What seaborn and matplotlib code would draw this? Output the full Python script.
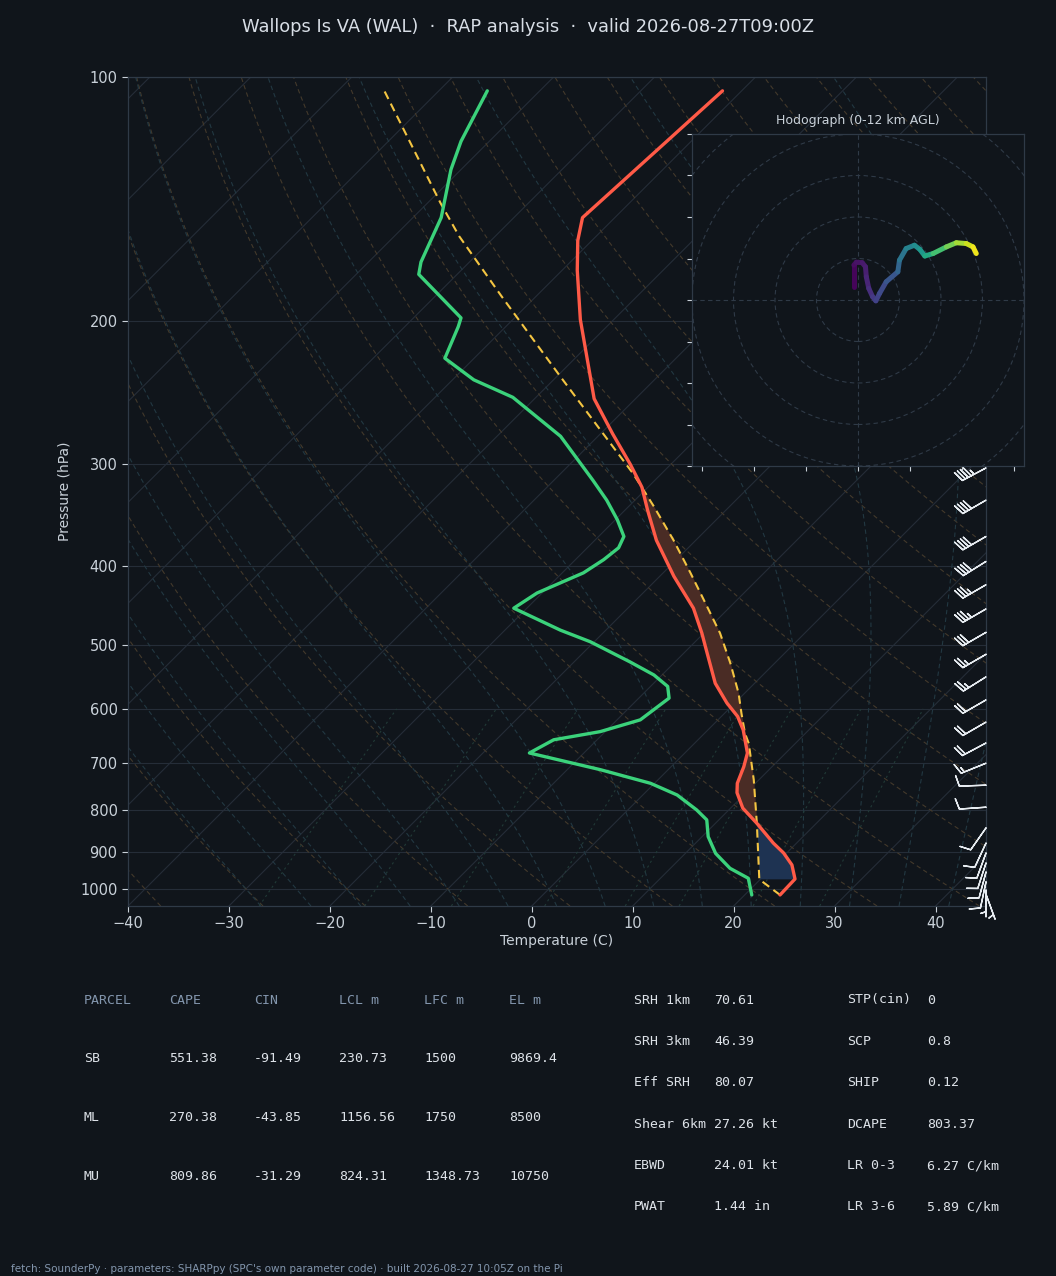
import numpy as np
import pandas as pd
import matplotlib
matplotlib.use("Agg")
import matplotlib.pyplot as plt
import matplotlib.transforms as mtransforms
from matplotlib.collections import LineCollection
from matplotlib.patches import Circle
from matplotlib.ticker import NullLocator, FixedLocator, FixedFormatter
import seaborn as sns

# ── Sounding values ───────────────────────────────────────────────────────────
temp_p = [1017, 972, 934, 903, 878, 830, 795, 761, 741, 707, 680, 637, 613, 590,
          558, 503, 484, 451, 412, 372, 342, 320, 300, 275, 249, 236, 199, 173,
          159, 149, 104]
temp_t = [23.5, 23.4, 21.7, 19.7, 17.7, 14.1, 11.2, 9.1, 8.2, 7.2, 6.2, 3.5, 1.6,
          -0.8, -3.9, -8.5, -10.2, -13.5, -18.6, -23.9, -27.7, -30.6, -34.0,
          -38.8, -44.1, -46.3, -53.3, -58.5, -61.4, -63.2, -61.9]

dwpt_p = [1017, 970, 943, 904, 862, 822, 799, 766, 741, 713, 680, 655, 640, 619,
          582, 563, 545, 525, 496, 480, 451, 432, 408, 393, 380, 368, 351, 332,
          314, 277, 248, 236, 222, 203, 198, 175, 169, 149, 130, 120, 104]
dwpt_t = [20.7, 18.7, 15.9, 13.0, 10.6, 8.8, 6.8, 3.4, -0.4, -6.7, -15.4, -14.3,
          -10.5, -7.7, -7.0, -8.3, -10.8, -14.5, -20.4, -24.5, -31.3, -30.5, -27.9,
          -27.2, -26.9, -27.5, -29.8, -32.8, -36.1, -43.7, -52.3, -57.9, -62.9,
          -64.7, -65.3, -73.8, -74.8, -77.2, -81.0, -82.8, -85.2]

parcel_p = [1017, 973, 830, 734, 662, 643, 608, 574, 527, 484, 449, 408, 372, 338,
            308, 272, 234, 186, 157, 143, 104]
parcel_t = [23.5, 19.9, 14.1, 9.5, 5.4, 4.0, 1.7, -0.6, -4.4, -8.4, -12.3, -17.3,
            -22.2, -27.5, -32.8, -40.4, -49.6, -63.5, -73.6, -78.7, -95.4]

barb_p = [303, 332, 368, 395, 422, 452, 483, 514, 548, 585, 623, 661, 700, 745,
          793, 841, 878, 903, 929, 953, 980, 1003, 1015]
barb_spd = [45, 40, 40, 40, 35, 35, 30, 25, 25, 20, 20, 20, 15, 10, 10, 10, 10,
            10, 10, 10, 10, 5, 5]
barb_dir = [242, 240, 240, 238, 240, 240, 240, 240, 238, 240, 240, 242, 248, 268,
            266, 215, 205, 200, 198, 195, 192, 180, 160]

hodo_u = [-1.0, -1.0, -0.4, 1.0, 1.8, 2.0, 2.6, 3.5, 4.3, 5.2, 6.8, 9.6, 10.0,
          11.6, 13.6, 14.9, 16.1, 18.1, 21.3, 23.7, 26.1, 27.7, 28.5]
hodo_v = [3.2, 8.4, 9.1, 9.0, 8.0, 5.6, 2.8, 0.8, -0.2, 1.6, 4.4, 6.8, 9.6, 12.4,
          13.2, 12.2, 10.6, 11.2, 12.8, 13.8, 13.6, 12.8, 11.2]
hodo_z = [0.0, 0.3, 0.5, 0.7, 0.9, 1.1, 1.4, 1.8, 2.2, 2.5, 2.9, 3.5, 4.2, 5.0,
          5.6, 6.1, 6.7, 7.8, 9.0, 10.0, 10.8, 11.4, 12.0]

title = "Wallops Is VA (WAL)  \u00b7  RAP analysis  \u00b7  valid 2026-08-27T09:00Z"
footer = ("fetch: SounderPy \u00b7 parameters: SHARPpy (SPC's own parameter code) "
          "\u00b7 built 2026-08-27 10:05Z on the Pi")

parcel_header = ["PARCEL", "CAPE", "CIN", "LCL m", "LFC m", "EL m"]
parcel_rows = [
    ["SB", "551.38", "-91.49", "230.73", "1500", "9869.4"],
    ["ML", "270.38", "-43.85", "1156.56", "1750", "8500"],
    ["MU", "809.86", "-31.29", "824.31", "1348.73", "10750"],
]
kin_labels = ["SRH 1km", "SRH 3km", "Eff SRH", "Shear 6km", "EBWD", "PWAT"]
kin_values = ["70.61", "46.39", "80.07", "27.26 kt", "24.01 kt", "1.44 in"]
idx_labels = ["STP(cin)", "SCP", "SHIP", "DCAPE", "LR 0-3", "LR 3-6"]
idx_values = ["0", "0.8", "0.12", "803.37", "6.27 C/km", "5.89 C/km"]

# ── Style ─────────────────────────────────────────────────────────────────────
BG = "#10151b"
GRID = "#252d38"
SPINE = "#2f3a47"
TXT = "#c9d1d9"
MUTED = "#8396ad"
RED = "#ff5a47"
GREEN = "#3bd27b"
YELLOW = "#f4c542"

sns.set_theme(style="dark", rc={
    "figure.facecolor": BG,
    "axes.facecolor": BG,
    "axes.edgecolor": SPINE,
    "axes.labelcolor": TXT,
    "xtick.color": TXT,
    "ytick.color": TXT,
    "text.color": TXT,
})
plt.rcParams["font.family"] = ["DejaVu Sans"]

P_BOT = 1049.4
P_TOP = 100.0
SKEW = 80.48   # deg C of shift per decade of pressure (45 deg on screen)


def skx(t, p):
    """Skewed x position of temperature t at pressure p."""
    return np.asarray(t, float) + SKEW * np.log10(P_BOT / np.asarray(p, float))


def moist_dtdp(T, p):
    tc = T - 273.15
    es = 6.112 * np.exp(17.67 * tc / (tc + 243.5))
    rs = 0.622 * es / (p - es)
    num = 287.04 * T + 2.501e6 * rs
    den = 1005.7 + (2.501e6 ** 2 * rs * 0.622) / (287.04 * T ** 2)
    return num / (den * p)


def moist_adiabat(t0, pres):
    T = np.empty((len(pres), len(t0)))
    T[0] = np.asarray(t0) + 273.15
    for i in range(1, len(pres)):
        h = pres[i] - pres[i - 1]
        p = pres[i - 1]
        k1 = moist_dtdp(T[i - 1], p)
        k2 = moist_dtdp(T[i - 1] + 0.5 * h * k1, p + 0.5 * h)
        k3 = moist_dtdp(T[i - 1] + 0.5 * h * k2, p + 0.5 * h)
        k4 = moist_dtdp(T[i - 1] + h * k3, p + h)
        T[i] = T[i - 1] + h * (k1 + 2 * k2 + 2 * k3 + k4) / 6
    return T - 273.15


fig = plt.figure(figsize=(10.56, 12.76), dpi=100)
ax = fig.add_axes([128 / 1056, 1 - 906 / 1276, 858 / 1056, 829 / 1276])
ax.set_yscale("log")
ax.set_ylim(P_BOT, P_TOP)
ax.set_xlim(-40, 45)

# background reference lines
plevs = np.geomspace(P_BOT, P_TOP, 120)
for t in range(-130, 50, 10):
    ax.plot(skx([t, t], [P_BOT, P_TOP]), [P_BOT, P_TOP], color=GRID, lw=0.8, zorder=1)
for p in range(100, 1001, 100):
    ax.axhline(p, color=GRID, lw=0.8, zorder=1)

for theta in np.arange(-40, 201, 10):
    tt = (theta + 273.15) * (plevs / 1000.0) ** 0.2857 - 273.15
    ax.plot(skx(tt, plevs), plevs, color="#43392b", lw=0.8, ls=(0, (4, 3)), zorder=1)

t_starts = np.arange(-30, 46, 5)
p_up = np.geomspace(1000, P_TOP, 200)
p_dn = np.geomspace(1000, P_BOT, 20)
m_up = moist_adiabat(t_starts, p_up)
m_dn = moist_adiabat(t_starts, p_dn)
for j in range(len(t_starts)):
    pp = np.concatenate([p_dn[::-1], p_up[1:]])
    tt = np.concatenate([m_dn[::-1, j], m_up[1:, j]])
    ax.plot(skx(tt, pp), pp, color="#223842", lw=0.8, ls=(0, (4, 3)), zorder=1)

pmix = np.geomspace(P_BOT, 600, 30)
for w in [0.4, 1, 2, 4, 7, 10, 16, 24]:
    e = (w / 1000) * pmix / (0.622 + w / 1000)
    le = np.log(e / 6.112)
    td = 243.5 * le / (17.67 - le)
    ax.plot(skx(td, pmix), pmix, color="#213a37", lw=0.8, ls=(0, (2, 3)), zorder=1)

# CAPE / CIN shading
grid_p = np.geomspace(1017, 104, 600)
lg = np.log(grid_p)[::-1]
t_i = np.interp(lg, np.log(temp_p)[::-1], np.array(temp_t)[::-1])[::-1]
pc_i = np.interp(lg, np.log(parcel_p)[::-1], np.array(parcel_t)[::-1])[::-1]
ax.fill_betweenx(grid_p, skx(t_i, grid_p), skx(pc_i, grid_p), where=pc_i > t_i,
                 color="#4a2c25", lw=0, zorder=2)
cin_mask = (pc_i <= t_i) & (grid_p <= 973) & (grid_p >= 700)
ax.fill_betweenx(grid_p, skx(t_i, grid_p), skx(pc_i, grid_p), where=cin_mask,
                 color="#1e3352", lw=0, zorder=2)

# profiles
prof_t = pd.DataFrame({"x": skx(temp_t, temp_p), "p": temp_p})
prof_d = pd.DataFrame({"x": skx(dwpt_t, dwpt_p), "p": dwpt_p})
prof_pc = pd.DataFrame({"x": skx(parcel_t, parcel_p), "p": parcel_p})
sns.lineplot(data=prof_pc, x="x", y="p", sort=False, estimator=None, ax=ax,
             color=YELLOW, lw=1.5, dashes=False, zorder=4)
ax.lines[-1].set_linestyle((0, (4, 2.5)))
sns.lineplot(data=prof_d, x="x", y="p", sort=False, estimator=None, ax=ax,
             color=GREEN, lw=2.4, zorder=5)
sns.lineplot(data=prof_t, x="x", y="p", sort=False, estimator=None, ax=ax,
             color=RED, lw=2.4, zorder=5)

ax.set_ylim(P_BOT, P_TOP)
ax.set_xlim(-40, 45)
ax.yaxis.set_major_locator(FixedLocator(list(range(100, 1001, 100))))
ax.yaxis.set_major_formatter(FixedFormatter([str(v) for v in range(100, 1001, 100)]))
ax.yaxis.set_minor_locator(NullLocator())
ax.set_xticks(range(-40, 41, 10))
ax.tick_params(axis="both", labelsize=10.5, length=4, width=0.8, colors=TXT,
               bottom=True, left=True)
ax.set_xlabel("Temperature (C)", fontsize=10, labelpad=2)
ax.set_ylabel("Pressure (hPa)", fontsize=10, labelpad=6)
for s in ax.spines.values():
    s.set_color(SPINE)
    s.set_linewidth(0.9)
ax.grid(False)

# wind barbs on the right edge
rad = np.deg2rad(barb_dir)
bu = -np.array(barb_spd) * np.sin(rad)
bv = -np.array(barb_spd) * np.cos(rad)
btrans = mtransforms.blended_transform_factory(ax.transAxes, ax.transData)
ax.barbs(np.ones(len(barb_p)), barb_p, bu, bv, transform=btrans, length=6.2,
         color="#e6ebf0", lw=1.0, clip_on=False, zorder=6)

fig.text(0.5, 1 - 27 / 1276, title, ha="center", va="center", fontsize=12.9,
         color="#d8dee6")

# hodograph inset
hx = fig.add_axes([692 / 1056, 1 - 466 / 1276, 332 / 1056, 332 / 1276])
hx.set_facecolor(BG)
hx.set_xlim(-40, 40)
hx.set_ylim(-40, 40)
for r in range(10, 70, 10):
    hx.add_patch(Circle((0, 0), r, fill=False, ec="#2f3a47", lw=0.8, ls=(0, (4, 3))))
hx.axhline(0, color="#2f3a47", lw=0.8, ls=(0, (4, 3)))
hx.axvline(0, color="#2f3a47", lw=0.8, ls=(0, (4, 3)))
pts = np.column_stack([hodo_u, hodo_v])
segs = np.stack([pts[:-1], pts[1:]], axis=1)
zmid = 0.5 * (np.array(hodo_z[:-1]) + np.array(hodo_z[1:]))
lc = LineCollection(segs, cmap="viridis", linewidths=3.6, capstyle="round",
                    joinstyle="round")
lc.set_array(zmid)
lc.set_clim(0, 12)
hx.add_collection(lc)
hx.set_xticks(np.arange(-37.5, 40, 12.5))
hx.set_yticks(np.arange(-40, 41, 10))
hx.set_xticklabels([])
hx.set_yticklabels([])
hx.tick_params(length=3.5, width=0.8, colors=TXT, bottom=True, left=True)
for s in hx.spines.values():
    s.set_color(SPINE)
    s.set_linewidth(0.9)
hx.grid(False)
hx.set_title("Hodograph (0-12 km AGL)", fontsize=9, color=TXT, pad=7)

# parameter tables
mono = "DejaVu Sans Mono"
col_x = [84, 169, 254, 339, 424, 509]
for i, h in enumerate(parcel_header):
    fig.text(col_x[i] / 1056, 1 - 1000 / 1276, h, family=mono, fontsize=9.5,
             color=MUTED, va="center")
for r, row in enumerate(parcel_rows):
    y = 1059 + r * 58.5
    for i, v in enumerate(row):
        fig.text(col_x[i] / 1056, 1 - y / 1276, v, family=mono, fontsize=9.5,
                 color="#dde2e8", va="center")
for r in range(len(kin_labels)):
    y = 1 - (1000 + r * 41.4) / 1276
    fig.text(634 / 1056, y, kin_labels[r], family=mono, fontsize=9.5,
             color="#dde2e8", va="center")
    fig.text(714 / 1056, y, kin_values[r], family=mono, fontsize=9.5,
             color="#dde2e8", va="center")
    fig.text(847 / 1056, y, idx_labels[r], family=mono, fontsize=9.5,
             color="#dde2e8", va="center")
    fig.text(927 / 1056, y, idx_values[r], family=mono, fontsize=9.5,
             color="#dde2e8", va="center")

fig.text(11 / 1056, 1 - 1269 / 1276, footer, fontsize=7.5, color=MUTED,
         va="center", ha="left")

fig.savefig("out.png", dpi=100, facecolor=BG)
